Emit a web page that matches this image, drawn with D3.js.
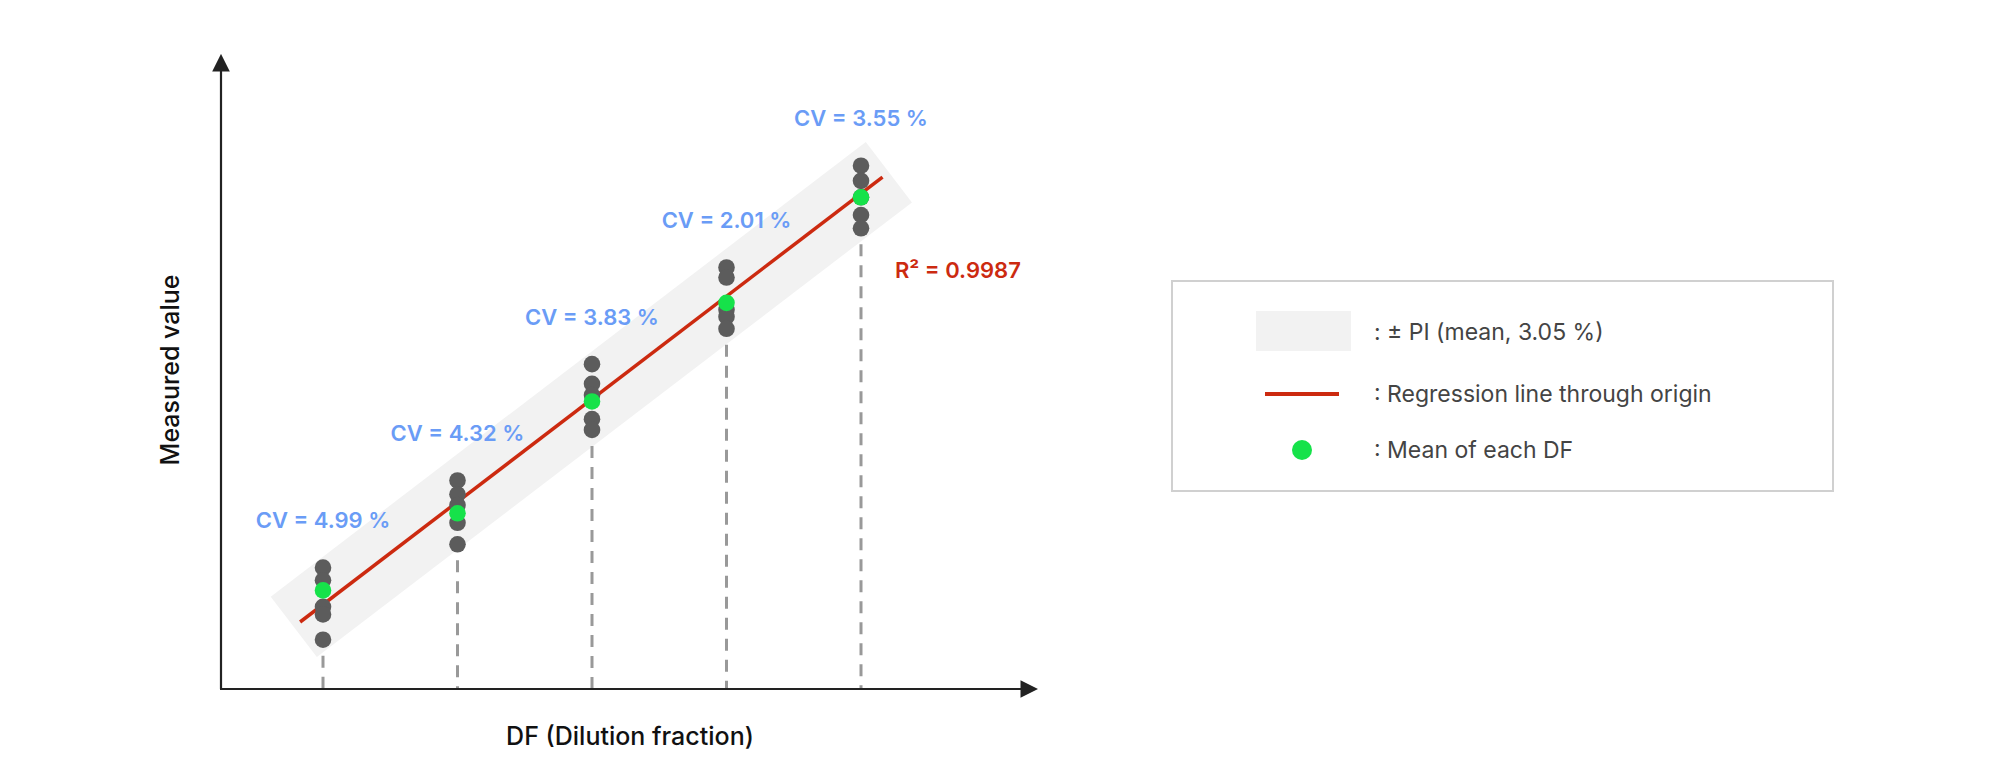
<!DOCTYPE html>
<html><head><meta charset="utf-8">
<script src="https://cdn.jsdelivr.net/npm/d3@7"></script>
<style>body{margin:0;background:#fff}svg{display:block;font-family:Inter,"Noto Sans",sans-serif}</style>
</head><body><svg id="c" width="2000" height="774"></svg>
<script>
const dfs = [1, 2, 3, 4, 5];
const replicates = [
  [1.92, 1.72, 1.30, 1.18, 0.78],
  [3.30, 3.08, 2.91, 2.63, 2.29],
  [5.14, 4.83, 4.65, 4.27, 4.10],
  [6.67, 6.51, 6.00, 5.89, 5.70],
  [8.28, 8.04, 7.50, 7.29, 7.78]
];
const means = [1.56, 2.78, 4.55, 6.11, 7.78];
const cvLabels = ["CV = 4.99 %", "CV = 4.32 %", "CV = 3.83 %", "CV = 2.01 %", "CV = 3.55 %"];
const regStart = [0.83, 1.06];
const regEnd = [5.16, 8.10];
const r2Label = "R\u00B2 = 0.9987";
const legendLabels = [": \u00B1 PI (mean, 3.05 %)", ": Regression line through origin", ": Mean of each DF"];

const svg = d3.select("#c");
const x = d3.scaleLinear().domain([0, 6]).range([188.5, 995.5]);
const y = d3.scaleLinear().domain([0, 10]).range([689, 57]);
const ax0 = 221, ay0 = 689;

// band
const p1 = [x(regStart[0]), y(regStart[1])], p2 = [x(regEnd[0]), y(regEnd[1])];
const dx = p2[0]-p1[0], dy = p2[1]-p1[1], L = Math.hypot(dx, dy);
const nx = -dy/L*38, ny = dx/L*38, ex = dx/L*8, ey = dy/L*8;
const band = [[p1[0]+nx-ex,p1[1]+ny-ey],[p2[0]+nx+ex,p2[1]+ny+ey],[p2[0]-nx+ex,p2[1]-ny+ey],[p1[0]-nx-ex,p1[1]-ny-ey]];
svg.append("polygon").attr("points", band.map(p=>p.join(",")).join(" ")).attr("fill","#f2f2f2");

// dashed lines
dfs.forEach((d,i)=>{
  const low = d3.min(replicates[i]);
  svg.append("line").attr("x1",x(d)).attr("x2",x(d)).attr("y1",y(low)+16).attr("y2",ay0)
    .attr("stroke","#999").attr("stroke-width",3).attr("stroke-dasharray","12,9");
});

// axes
const defs = svg.append("defs");
defs.append("marker").attr("id","ar").attr("viewBox","0 0 10 10").attr("refX",2).attr("refY",5)
  .attr("markerWidth",8).attr("markerHeight",8).attr("orient","auto")
  .append("path").attr("d","M0,0L10,5L0,10z").attr("fill","#222");
svg.append("line").attr("x1",ax0).attr("y1",ay0).attr("x2",ax0).attr("y2",68).attr("stroke","#222").attr("stroke-width",2.2).attr("marker-end","url(#ar)");
svg.append("line").attr("x1",ax0-1).attr("y1",ay0).attr("x2",1024).attr("y2",ay0).attr("stroke","#222").attr("stroke-width",2.2).attr("marker-end","url(#ar)");

// regression
svg.append("line").attr("x1",p1[0]).attr("y1",p1[1]).attr("x2",p2[0]).attr("y2",p2[1]).attr("stroke","#cc2a10").attr("stroke-width",3.5);

// points
dfs.forEach((d,i)=>{
  svg.append("g").selectAll("circle").data(replicates[i]).join("circle")
    .attr("cx",x(d)).attr("cy",v=>y(v)).attr("r",8.3).attr("fill","#5c5c5c");
});
svg.append("g").selectAll("circle").data(means).join("circle")
  .attr("cx",(v,i)=>x(dfs[i])).attr("cy",v=>y(v)).attr("r",8.3).attr("fill","#16e24a");

// CV labels
dfs.forEach((d,i)=>{
  svg.append("text").attr("x",x(d)).attr("y",y(d3.max(replicates[i]))-47).attr("dy","0.35em")
    .attr("text-anchor","middle").attr("font-size",22).attr("font-weight",600).attr("fill","#6a9cf6").text(cvLabels[i]);
});
svg.append("text").attr("x",895).attr("y",270).attr("dy","0.35em").attr("font-size",22).attr("font-weight",600)
  .attr("fill","#cc2a10").text(r2Label);

// axis titles
svg.append("text").attr("transform","translate(170,370) rotate(-90)").attr("text-anchor","middle").attr("dy","0.35em")
  .attr("font-size",25).attr("font-weight",500).attr("fill","#111").text("Measured value");
svg.append("text").attr("x",630).attr("y",736).attr("text-anchor","middle").attr("dy","0.35em")
  .attr("font-size",25).attr("font-weight",500).attr("fill","#111").text("DF (Dilution fraction)");

// legend
const lg = svg.append("g");
lg.append("rect").attr("x",1172).attr("y",281).attr("width",661).attr("height",210).attr("fill","#fff").attr("stroke","#d0d0d0").attr("stroke-width",2);
lg.append("rect").attr("x",1256).attr("y",311).attr("width",95).attr("height",40).attr("fill","#f2f2f2");
lg.append("line").attr("x1",1265).attr("x2",1339).attr("y1",394).attr("y2",394).attr("stroke","#cc2a10").attr("stroke-width",4);
lg.append("circle").attr("cx",1302).attr("cy",450).attr("r",10).attr("fill","#16e24a");
[332,394,450].forEach((yy,i)=>{
  lg.append("text").attr("x",1374).attr("y",yy).attr("dy","0.35em").attr("font-size",23).attr("fill","#444").text(legendLabels[i]);
});
</script></body></html>
